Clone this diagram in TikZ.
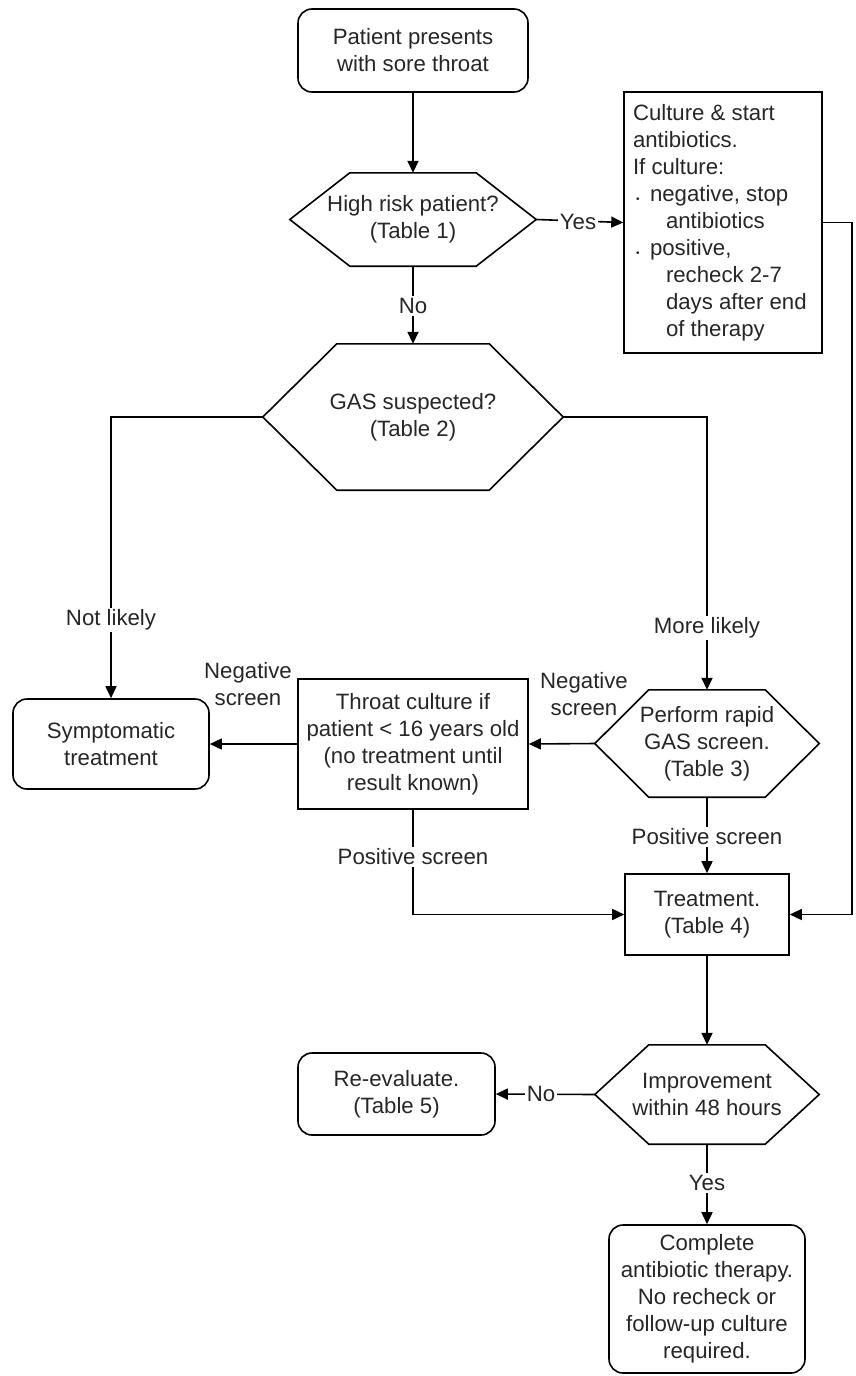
\documentclass[tikz,border=0pt]{standalone}
\usepackage{fontspec}
\setmainfont{Liberation Sans}
\usetikzlibrary{arrows.meta,calc}
\definecolor{txt}{gray}{0.15}
\begin{document}
\begin{tikzpicture}[x=1pt,y=-1pt,
  every node/.style={font=\fontsize{22.2}{27}\selectfont, text=txt, inner sep=0pt, align=center},
  rbox/.style={draw, line width=1.6pt, rounded corners=14pt},
  sbox/.style={draw, line width=1.6pt},
  hexn/.style={},
  lab/.style={fill=white, inner sep=2pt},
  conn/.style={line width=1.6pt},
  arr/.style={line width=1.6pt, -{Triangle[length=12pt,width=11pt]}}]
\useasboundingbox (0,0) rectangle (855,1376);
% nodes
\node[rbox, minimum width=230pt, minimum height=83pt] (start) at (413,50.5) {Patient presents\\with sore throat};
\node[hexn, minimum width=246pt, minimum height=93pt] (hr) at (413,219.5) {High risk patient?\\(Table 1)};
\node[sbox, minimum width=198pt, minimum height=261pt] (cult) at (723,222.5) {\begin{minipage}{180pt}\raggedright
Culture \& start\\
antibiotics.\\
If culture:\\
\hspace*{3pt}\makebox[14pt][l]{\raisebox{-1pt}{\fontsize{10}{10}\selectfont\textbullet}}negative, stop\\
\hspace*{33pt}antibiotics\\
\hspace*{3pt}\makebox[14pt][l]{\raisebox{-1pt}{\fontsize{10}{10}\selectfont\textbullet}}positive,\\
\hspace*{33pt}recheck 2-7\\
\hspace*{33pt}days after end\\
\hspace*{33pt}of therapy\end{minipage}};
\node[hexn, minimum width=300pt, minimum height=146pt] (gas) at (413,417) {GAS suspected?\\(Table 2)};
\node[rbox, minimum width=196pt, minimum height=90pt] (symp) at (111,744) {Symptomatic\\treatment};
\node[sbox, minimum width=230pt, minimum height=130pt] (throat) at (413,744) {Throat culture if\\patient < 16 years old\\(no treatment until\\result known)};
\node[hexn, minimum width=224pt, minimum height=107pt] (rapid) at (707,743.5) {Perform rapid\\GAS screen.\\(Table 3)};
\node[sbox, minimum width=164pt, minimum height=81pt] (treat) at (707,914.5) {Treatment.\\(Table 4)};
\node[hexn, minimum width=224pt, minimum height=99pt] (imp) at (707,1094.5) {Improvement\\within 48 hours};
\node[rbox, minimum width=197pt, minimum height=82pt] (reev) at (396.5,1094) {Re-evaluate.\\(Table 5)};
\node[rbox, minimum width=196pt, minimum height=148pt] (comp) at (707,1299) {Complete\\antibiotic therapy.\\No recheck or\\follow-up culture\\required.};
% hexagon outlines
\foreach \n/\d in {hr/60, gas/74, rapid/54, imp/54}
  \draw[conn] ($(\n.north west)+(\d,0)$) -- ($(\n.north east)+(-\d,0)$) -- (\n.east)
     -- ($(\n.south east)+(-\d,0)$) -- ($(\n.south west)+(\d,0)$) -- (\n.west) -- cycle;
% connectors
\coordinate (rc) at (852,222.5);
\draw[arr] (start.south) -- (hr.north);
\draw[arr] (hr.east) -- (cult.west);
\draw[arr] (hr.south) -- (gas.north);
\draw[arr] (gas.west) -| (symp.north);
\draw[arr] (gas.east) -| (rapid.north);
\draw[arr] (rapid.west) -- (throat.east);
\draw[arr] (throat.west) -- (symp.east);
\draw[arr] (rapid.south) -- (treat.north);
\draw[arr] (throat.south) |- (treat.west);
\draw[arr] (cult.east) -- (rc) |- (treat.east);
\draw[arr] (treat.south) -- (imp.north);
\draw[arr] (imp.west) -- (reev.east);
\draw[arr] (imp.south) -- (comp.north);
% labels
\node[lab] (lyes1) at (578,222) {Yes};
\node[lab] (lno1) at (413,306) {No};
\node[lab] (lnot) at (111,620) {Not likely};
\node[lab] (lmore) at (707,628) {More likely};
\node (lneg1) at (248,684) {Negative\\screen};
\node (lneg2) at (584,694.5) {Negative\\screen};
\node[lab] (lpos1) at (707,837) {Positive screen};
\node[lab] (lpos2) at (413,857) {Positive screen};
\node[lab] (lno2) at (541,1094) {No};
\node[lab] (lyes2) at (707,1183) {Yes};
\end{tikzpicture}
\end{document}
